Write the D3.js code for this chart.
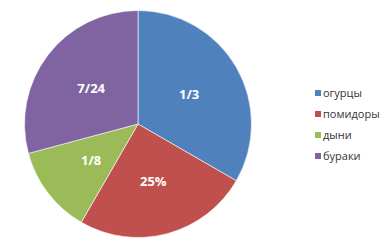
<!DOCTYPE html>
<html><head><meta charset="utf-8">
<script src="https://cdn.jsdelivr.net/npm/d3@7"></script>
<style>body{margin:0;background:#fff}svg{display:block}</style>
</head><body>
<svg id="c" width="382" height="247"></svg>
<script>
const categories = ["огурцы", "помидоры", "дыни", "бураки"];
const values = [8/24, 6/24, 3/24, 7/24];
const labels = ["1/3", "25%", "1/8", "7/24"];
const colors = ["#4F81BD", "#C0504D", "#9BBB59", "#8064A2"];

const svg = d3.select("#c");
const cx = 138, cy = 124, r = 113.5;
const g = svg.append("g").attr("transform", `translate(${cx},${cy})`);
const pie = d3.pie().sort(null).value(d => d)(values);
const arc = d3.arc().innerRadius(0).outerRadius(r);
const labelArc = d3.arc().innerRadius(r * 0.52).outerRadius(r * 0.52);
const color = d3.scaleOrdinal().domain(categories).range(colors);

g.selectAll("path").data(pie).join("path")
  .attr("d", arc)
  .attr("fill", (d, i) => color(categories[i]))
  .attr("stroke", "#ffffff").attr("stroke-width", 0.6);

g.selectAll("text").data(pie).join("text")
  .attr("transform", d => `translate(${labelArc.centroid(d)})`)
  .attr("text-anchor", "middle").attr("dy", "0.36em")
  .attr("fill", "#fff").attr("font-family", "'Open Sans', sans-serif")
  .attr("font-weight", "bold").attr("font-size", 13)
  .text((d, i) => labels[i]);

const y = d3.scalePoint().domain(categories).range([93, 156]);
const leg = svg.append("g").selectAll("g").data(categories).join("g")
  .attr("transform", d => `translate(315,${y(d)})`);
leg.append("rect").attr("x", 0).attr("y", -3).attr("width", 6).attr("height", 6)
  .attr("fill", d => color(d));
leg.append("text").attr("x", 8).attr("dy", "0.35em")
  .attr("font-family", "'Open Sans', sans-serif").attr("font-size", 11)
  .attr("fill", "#333").text(d => d);
</script>
</body></html>
